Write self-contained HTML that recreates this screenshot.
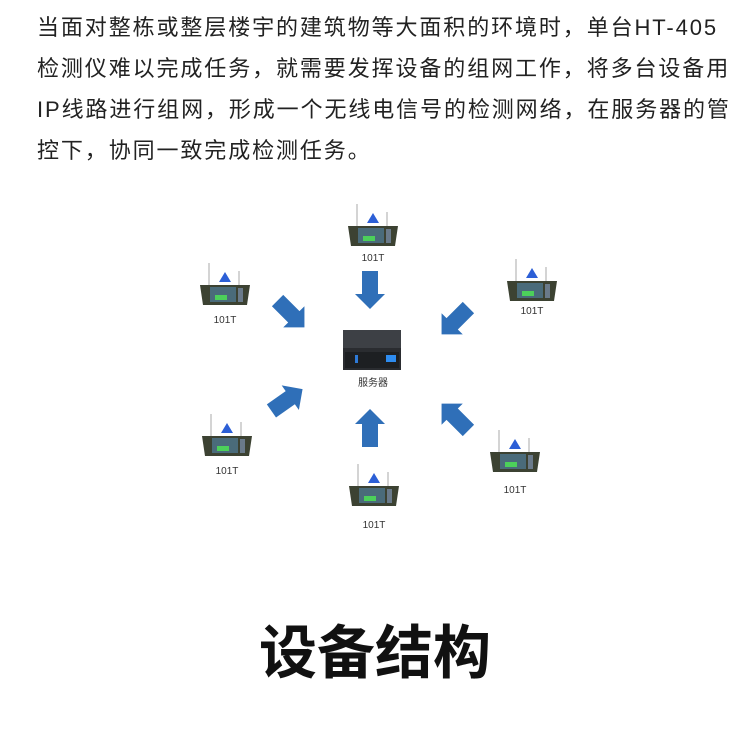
<!DOCTYPE html>
<html><head><meta charset="utf-8"><style>
body{margin:0;width:750px;height:741px;background:#fff;overflow:hidden;font-family:"Liberation Sans","Noto Sans CJK SC",sans-serif}
.p{position:absolute;left:37px;top:7px;font-size:22px;letter-spacing:1.9px;line-height:41px;color:#222;white-space:nowrap}
.t{position:absolute;left:0;width:750px;top:618px;text-align:center;font-size:58px;font-weight:bold;color:#111;line-height:72px}
svg{position:absolute;left:0;top:0}
</style></head><body>
<div class="p">当面对整栋或整层楼宇的建筑物等大面积的环境时，单台HT-405<br>检测仪难以完成任务，就需要发挥设备的组网工作，将多台设备用<br>IP线路进行组网，形成一个无线电信号的检测网络，在服务器的管<br>控下，协同一致完成检测任务。</div>
<svg width="750" height="741">
<defs>
<g id="dev">
<line x1="-16" y1="0" x2="-16" y2="-22" stroke="#aaa" stroke-width="1"/>
<line x1="14" y1="0" x2="14" y2="-14" stroke="#aaa" stroke-width="1"/>
<polygon points="-6,-3 0,-13 6,-3" fill="#2c5fd6"/>
<path d="M-25,0 L25,0 L22,20 L-22,20 Z" fill="#3c4232"/>
<rect x="-15" y="2" width="26" height="15" fill="#4a6b7a"/>
<rect x="-10" y="10" width="12" height="5" fill="#4cd05a"/>
<rect x="13" y="3" width="5" height="14" fill="#6a7a8a"/>
</g>
<g id="arr"><polygon points="-8,-19 8,-19 8,4 15,4 0,19 -15,4 -8,4" fill="#2f6fb8"/></g>
</defs>
<g font-size="10" fill="#333" text-anchor="middle">
<use href="#dev" x="373" y="226"/><text x="373" y="261">101T</text>
<use href="#dev" x="225" y="285"/><text x="225" y="323">101T</text>
<use href="#dev" x="532" y="281"/><text x="532" y="314">101T</text>
<use href="#dev" x="227" y="436"/><text x="227" y="474">101T</text>
<use href="#dev" x="374" y="486"/><text x="374" y="528">101T</text>
<use href="#dev" x="515" y="452"/><text x="515" y="493">101T</text>
<text x="373" y="386">服务器</text>
</g>
<rect x="343" y="330" width="58" height="40" fill="#2a2c30"/>
<rect x="343" y="330" width="58" height="18" fill="#3d4045"/>
<rect x="345" y="352" width="54" height="16" fill="#1d1f22"/>
<rect x="355" y="355" width="3" height="8" fill="#2e7ad8"/>
<rect x="386" y="355" width="10" height="7" fill="#2e8cf0"/>
<use href="#arr" transform="translate(370,290)"/>
<use href="#arr" transform="translate(370,428) rotate(180)"/>
<use href="#arr" transform="translate(291,314) rotate(-45)"/>
<use href="#arr" transform="translate(455,321) rotate(45)"/>
<use href="#arr" transform="translate(287,400) rotate(-125)"/>
<use href="#arr" transform="translate(455,417) rotate(135)"/>
</svg>
<div class="t">设备结构</div>
</body></html>
